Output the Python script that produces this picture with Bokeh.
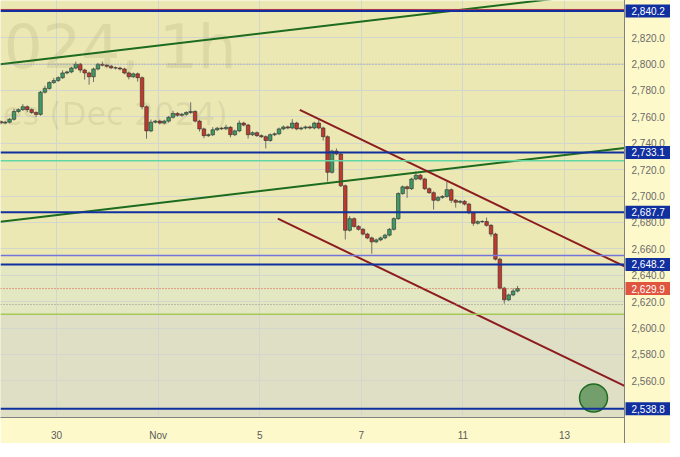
from bokeh.plotting import figure
from bokeh.models import (FixedTicker, Span, BoxAnnotation, ColumnDataSource)
from bokeh.core.properties import value
from bokeh.embed import file_html
from bokeh.resources import INLINE

# ---------------- data ----------------
first_open = 2756.5
closes = [
    2755.3, 2756.0, 2758.2, 2764.1, 2765.5, 2767.7, 2765.5, 2763.3, 2761.9, 2778.7,
    2781.6, 2786.0, 2787.5, 2789.7, 2793.3, 2794.1, 2797.0, 2799.9, 2795.5, 2793.3,
    2790.4, 2796.3, 2799.9, 2799.2, 2798.4, 2797.2, 2797.0, 2796.3, 2793.3, 2790.4,
    2792.6, 2789.7, 2767.7, 2749.4, 2756.0, 2756.8, 2755.3, 2756.8, 2759.7, 2762.6,
    2761.2, 2762.0, 2763.3, 2764.1, 2756.8, 2750.9, 2745.8, 2746.5, 2750.2, 2751.4,
    2751.0, 2752.1, 2746.5, 2749.4, 2755.3, 2753.8, 2746.5, 2748.0, 2745.8, 2745.0,
    2742.1, 2746.5, 2747.2, 2750.9, 2752.4, 2751.6, 2755.3, 2750.9, 2751.6, 2752.4,
    2751.6, 2755.3, 2751.6, 2745.0, 2718.0, 2734.1, 2731.9, 2707.8, 2674.1, 2682.9,
    2677.0, 2674.8, 2671.2, 2668.3, 2665.3, 2666.8, 2668.3, 2670.4, 2674.8, 2682.9,
    2701.9, 2707.0, 2705.6, 2712.9, 2715.8, 2712.9, 2705.6, 2702.6, 2696.8, 2699.0,
    2699.7, 2704.8, 2696.8, 2695.3, 2696.0, 2693.9, 2687.3, 2679.4, 2680.6, 2680.7,
    2677.8, 2671.2, 2652.2, 2630.2, 2621.4, 2625.1, 2628.0, 2629.9]
wick_up = [
    1, 1, 1, 2, 1, 2, 1, 1, 1, 1,
    2, 1, 2, 1, 2, 1, 1, 2, 1, 1,
    1, 1, 1, 2, 1, 1, 1, 1, 1, 1,
    1, 1, 1, 1, 2, 1, 1, 1, 1, 2,
    1, 1, 1, 7, 1, 1, 1, 1, 2, 1,
    1, 2, 1, 1, 2, 1, 1, 1, 1, 1,
    1, 1, 1, 1, 1, 1, 3, 1, 1, 1,
    1, 1, 3, 1, 1, 1, 2, 1, 1, 2,
    1, 1, 1, 1, 1, 1, 1, 1, 1, 1,
    1, 1, 1, 1, 3, 1, 1, 1, 1, 1,
    1, 6, 1, 1, 1, 1, 1, 1, 1, 1,
    3, 1, 1, 1, 1, 1, 2, 2]
wick_dn = [
    1, 1, 1, 1, 1, 1, 2, 1, 2, 1,
    1, 1, 1, 1, 1, 1, 1, 1, 2, 5,
    6, 4, 1, 1, 1, 1, 1, 1, 1, 2,
    1, 3, 2, 6, 1, 1, 1, 1, 1, 1,
    1, 1, 1, 1, 1, 2, 2, 1, 1, 1,
    1, 1, 2, 1, 1, 1, 3, 1, 1, 1,
    6, 1, 1, 1, 1, 1, 1, 1, 1, 1,
    1, 1, 1, 3, 7, 1, 1, 1, 7, 1,
    1, 1, 1, 1, 9, 1, 1, 1, 1, 1,
    1, 1, 7, 1, 1, 1, 1, 1, 7, 1,
    1, 1, 2, 4, 1, 1, 1, 2, 1, 1,
    1, 2, 1, 1, 3, 1, 1, 1]
bars_per_day = 11.5          # two-hour bars, 23h session
first_bar_day = -1.10        # trading days relative to Oct 30

x_ticks = [0, 2, 4, 6, 8, 10]
x_tick_labels = ["30", "Nov", "5", "7", "11", "13"]
y_ticks = [2560, 2580, 2600, 2620, 2640, 2660, 2680, 2700, 2720, 2740,
           2760, 2780, 2800, 2820, 2840]

blue_levels = [2840.2, 2733.1, 2687.7, 2648.2, 2538.8]
last_price = 2629.9
red_top_level = 2841.4
mint_level = 2726.8
violet_level = 2654.9
dotted_levels = [2800.0, 2617.8]
olive_level = 2610.5
zone_green = [2610.5, 2648.2]

green_upper_x = [-1.105, 11.18]
green_upper_y = [2799.9, 2855.8]
green_lower_x = [-1.105, 11.18]
green_lower_y = [2680.5, 2736.5]
red_upper_x = [4.787, 11.18]
red_upper_y = [2765.3, 2646.7]
red_lower_x = [4.355, 11.18]
red_lower_y = [2682.9, 2556.1]
target_x = [10.57]
target_y = [2547.0]

watermark_1 = "024, 1h"
watermark_2 = "es (Dec 2024)"

# ---------------- layout constants ----------------
FRAME_W, FRAME_H = 670, 417
COL_W = 46                                   # price-scale column, px
x_start, x_plot_end = -1.105, 11.18
px_per_day = (FRAME_W - COL_W) / (x_plot_end - x_start)
x_end = x_plot_end + COL_W / px_per_day
y_lo, y_hi = 2532.2, 2848.2
BG_AXIS = "#fdf9cb"
BLUE = "#1130a0"
LABEL_SIZE = "10px"

p = figure(frame_width=FRAME_W, frame_height=FRAME_H,
           x_range=(x_start, x_end), y_range=(y_lo, y_hi),
           y_axis_location=None, output_backend="svg", toolbar_location=None,
           min_border_left=0, min_border_top=0, min_border_right=0,
           min_border_bottom=24, background_fill_color="#ebe8b3",
           border_fill_color=BG_AXIS, outline_line_color=None)

xt = FixedTicker(ticks=x_ticks)
yt = FixedTicker(ticks=y_ticks)
p.xaxis.ticker = xt
p.xgrid.ticker = xt
p.ygrid.ticker = yt
p.grid.grid_line_color = "#d3d6cd"
p.grid.grid_line_width = 1
p.xaxis.major_label_overrides = dict(zip(x_ticks, x_tick_labels))
p.xaxis.major_tick_line_color = None
p.xaxis.minor_tick_line_color = None
p.xaxis.axis_line_color = "#808080"
p.xaxis.axis_line_width = 1
p.xaxis.major_label_text_font = "Liberation Sans"
p.xaxis.major_label_text_font_size = LABEL_SIZE
p.xaxis.major_label_text_color = "#5a5a5a"
p.xaxis.major_label_standoff = 6

# zones
p.add_layout(BoxAnnotation(bottom=zone_green[0], top=zone_green[1],
                           fill_color="#e3e7c2", fill_alpha=1, line_color=None,
                           level="image"))
p.add_layout(BoxAnnotation(top=zone_green[0], fill_color="#dfdfc6", fill_alpha=1,
                           line_color=None, level="image"))

# watermark
p.text(x=[3.54], y=[2813.1], text=[watermark_1], text_align="right",
       text_baseline="alphabetic", text_font=value("DejaVu Sans"),
       text_font_size="61px", text_color="#7a7550", text_alpha=0.13)
p.text(x=[3.37], y=[2761.9], text=[watermark_2], text_align="right",
       text_baseline="alphabetic", text_font=value("DejaVu Sans"),
       text_font_size="32px", text_color="#7a7550", text_alpha=0.13)

# candles
n = len(closes)
opens = [first_open] + closes[:-1]
highs = [max(o, c) + u for o, c, u in zip(opens, closes, wick_up)]
lows = [min(o, c) - d for o, c, d in zip(opens, closes, wick_dn)]
xs = [first_bar_day + i / bars_per_day for i in range(n)]
cols = ["#3f9a66" if c >= o else "#c0392e" for o, c in zip(opens, closes)]
src = ColumnDataSource(dict(x=xs, o=opens, c=closes, h=highs, l=lows, col=cols,
                            top=[max(o, c) for o, c in zip(opens, closes)],
                            bot=[min(o, c) for o, c in zip(opens, closes)]))
p.segment(x0="x", y0="h", x1="x", y1="l", source=src, line_color="#707070",
          line_width=1)
p.vbar(x="x", top="top", bottom="bot", width=0.8 / bars_per_day, source=src,
       fill_color="col", line_color="#2e2e2e", line_width=0.6)

# horizontal levels
p.add_layout(Span(location=red_top_level, dimension="width", line_color="#a8324e",
                  line_width=1))
for lv in blue_levels:
    p.add_layout(Span(location=lv, dimension="width", line_color=BLUE,
                      line_width=2))
p.add_layout(Span(location=mint_level, dimension="width", line_color="#62d6a4",
                  line_width=1.5))
p.add_layout(Span(location=violet_level, dimension="width", line_color="#7474dc",
                  line_width=1.5))
p.add_layout(Span(location=olive_level, dimension="width", line_color="#a6c957",
                  line_width=1.5))
for lv in dotted_levels:
    p.add_layout(Span(location=lv, dimension="width", line_color="#8f8f8f",
                      line_width=1, line_dash="1 2"))
p.add_layout(Span(location=last_price, dimension="width", line_color="#e0533d",
                  line_width=1, line_dash="1 2"))

# trend lines and target
p.line(green_upper_x, green_upper_y, line_color="#1c6b1f", line_width=2)
p.line(green_lower_x, green_lower_y, line_color="#1c6b1f", line_width=2)
p.line(red_upper_x, red_upper_y, line_color="#8c1c1f", line_width=2)
p.line(red_lower_x, red_lower_y, line_color="#8c1c1f", line_width=2)
p.scatter(target_x, target_y, size=28, fill_color="#4f8a4f", fill_alpha=0.75,
          line_color="#1f6b22", line_width=1.5)

# ---------------- price scale column (right) ----------------
p.quad(left=[x_plot_end], right=[x_end + 1], bottom=[y_lo - 50], top=[y_hi + 50],
       fill_color=BG_AXIS, line_color=None, level="overlay")
p.segment(x0=[x_plot_end], y0=[y_lo - 50], x1=[x_plot_end], y1=[y_hi + 50],
          line_color="#808080", line_width=1, level="overlay")
lab_x = x_plot_end + 7 / px_per_day
p.text(x=[lab_x] * len(y_ticks), y=y_ticks, text=[f"{t:,.1f}" for t in y_ticks],
       text_align="left", text_baseline="middle",
       text_font=value("Liberation Sans"), text_font_size=LABEL_SIZE,
       text_color="#6a6a6a", level="overlay")
box_x = x_plot_end + (1 + (COL_W - 1) / 2) / px_per_day
box_levels = blue_levels + [last_price]
box_cols = [BLUE] * len(blue_levels) + ["#e0553f"]
p.rect(x=[box_x] * len(box_levels), y=box_levels, width=COL_W - 1, height=13,
       width_units="screen", height_units="screen", fill_color=box_cols,
       line_color=None, level="overlay")
p.text(x=[lab_x] * len(box_levels), y=box_levels,
       text=[f"{v:,.1f}" for v in box_levels], text_align="left",
       text_baseline="middle", text_font=value("Liberation Sans"),
       text_font_size=LABEL_SIZE, text_color="white", level="overlay")

open("out.html", "w").write(file_html(p, INLINE))
